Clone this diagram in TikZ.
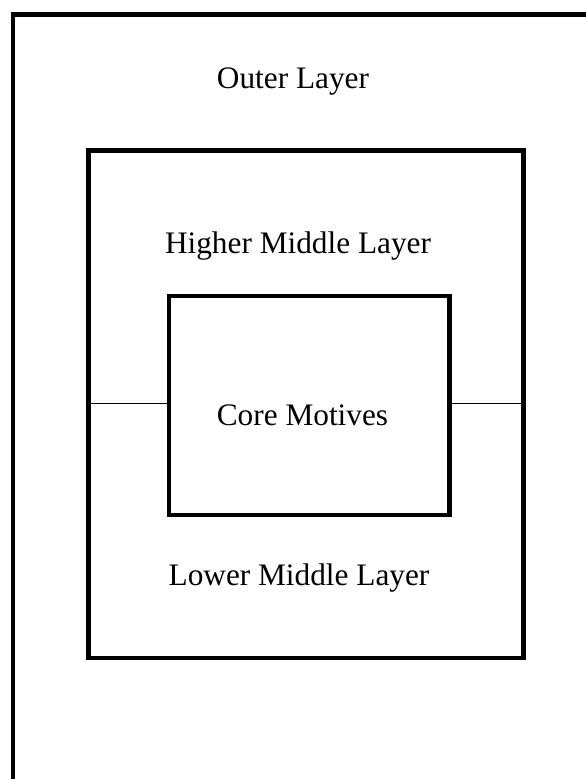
\documentclass[tikz,border=0pt]{standalone}
\usepackage{fontspec}
\setmainfont{Liberation Serif}
\begin{document}
\begin{tikzpicture}[x=1pt,y=-1pt,
  layerbox/.style={draw=black, line width=4.5pt, inner sep=0pt, outer sep=0pt, miter limit=10},
  label/.style={anchor=base, inner sep=0pt, font=\fontsize{31.3}{37}\selectfont},
  link/.style={draw=black, line width=1.5pt}]
\useasboundingbox (0,0) rectangle (586,779);
% nested layers
\node[layerbox, minimum width=600pt, minimum height=800pt, anchor=north west] (outer) at (13,14.5) {};
\node[layerbox, minimum width=435pt, minimum height=507.5pt, anchor=north west] (middle) at (88.5,150.5) {};
\node[layerbox, minimum width=280.5pt, minimum height=219pt, anchor=north west] (core) at (169,296) {};
% layer names
\node[label] (outerlbl) at (293,88) {Outer Layer};
\node[label] (higherlbl) at (298,253) {Higher Middle Layer};
\node[label] (corelbl) at (302.5,425) {Core Motives};
\node[label] (lowerlbl) at (299,585) {Lower Middle Layer};
% divider between the upper and lower middle layer
\coordinate (cl) at (core.west |- 0,403.5);
\coordinate (cr) at (core.east |- 0,403.5);
\draw[link] (cl) -- (cl -| middle.west);
\draw[link] (cr) -- (cr -| middle.east);
\end{tikzpicture}
\end{document}
